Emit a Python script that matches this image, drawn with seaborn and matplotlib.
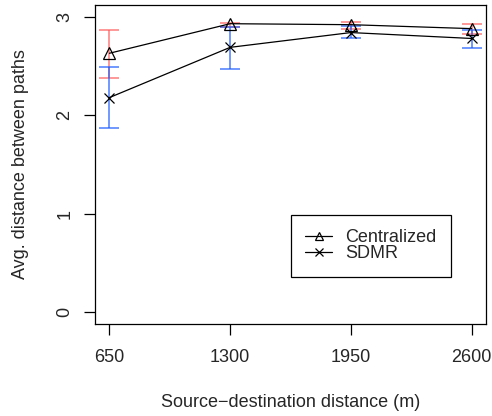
import numpy as np
import pandas as pd
import matplotlib
matplotlib.use("Agg")
import matplotlib.pyplot as plt
import seaborn as sns

# data
distances = [650, 1300, 1950, 2600]
centralized = [2.63, 2.93, 2.92, 2.88]
centralized_lo = [2.38, 2.90, 2.88, 2.83]
centralized_hi = [2.87, 2.94, 2.95, 2.93]
sdmr = [2.18, 2.69, 2.84, 2.78]
sdmr_lo = [1.87, 2.47, 2.78, 2.68]
sdmr_hi = [2.49, 2.90, 2.905, 2.87]

sns.set_style("white")
plt.rcParams['font.family'] = ['Liberation Sans', 'DejaVu Sans']
plt.rcParams['font.size'] = 13

fig = plt.figure(figsize=(4.92, 4.16), dpi=100)
ax = fig.add_axes([0.193, 0.221, 0.795, 0.767])

# error bars
ax.errorbar(distances, centralized,
            yerr=[np.subtract(centralized, centralized_lo), np.subtract(centralized_hi, centralized)],
            fmt='none', ecolor='#ff5050', alpha=0.75, elinewidth=1.1, capsize=7.5, capthick=1.1, zorder=2)
ax.errorbar(distances, sdmr,
            yerr=[np.subtract(sdmr, sdmr_lo), np.subtract(sdmr_hi, sdmr)],
            fmt='none', ecolor='#1a5cff', alpha=0.8, elinewidth=1.1, capsize=7.5, capthick=1.1, zorder=2)

# lines with markers
sns.lineplot(x=distances, y=centralized, marker='^', color='black', linewidth=0.9,
             markersize=8, markerfacecolor='none', markeredgecolor='black',
             markeredgewidth=0.9, label='Centralized', ax=ax, zorder=3)
sns.lineplot(x=distances, y=sdmr, marker='x', color='black', linewidth=0.9,
             markersize=7, markeredgecolor='black', markeredgewidth=0.9,
             label='SDMR', ax=ax, zorder=3)

ax.set_xlim(650 - 78, 2600 + 78)
ax.set_ylim(-0.12, 3.12)
ax.set_xticks(distances)
ax.set_xticklabels([str(d) for d in distances])
ax.set_yticks([0, 1, 2, 3])
ax.set_yticklabels(['0', '1', '2', '3'], rotation=90, va='center')

ax.tick_params(axis='both', direction='out', length=8, width=0.9, color='black',
               labelsize=13, bottom=True, left=True)
ax.tick_params(axis='x', pad=9.8)
ax.tick_params(axis='y', pad=7.5)

for s in ax.spines.values():
    s.set_color('black')
    s.set_linewidth(0.9)

ax.set_xlabel('Source\u2212destination distance (m)', fontsize=13, labelpad=20.5)
ax.set_ylabel('Avg. distance between paths', fontsize=13, labelpad=19.5)

leg = ax.legend(loc='upper left', bbox_to_anchor=(0.501, 0.342), frameon=True,
                fancybox=False, edgecolor='black', framealpha=1,
                handlelength=1.5, handletextpad=0.7, borderpad=0.8,
                labelspacing=-0.05, fontsize=13, markerscale=0.75,
                borderaxespad=0)
leg.get_frame().set_linewidth(0.9)

fig.savefig('out.png', dpi=100)
